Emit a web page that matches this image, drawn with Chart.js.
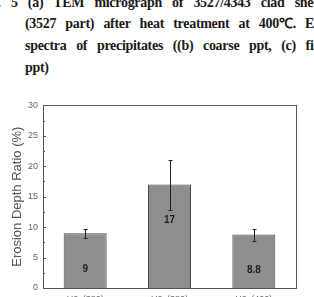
<!DOCTYPE html>
<html>
<head>
<meta charset="utf-8">
<script src="https://cdn.jsdelivr.net/npm/chart.js@4.4.0/dist/chart.umd.min.js"></script>
<style>
  html, body { margin: 0; padding: 0; background: #fff; width: 314px; height: 297px; overflow: hidden; position: relative; }
  .cap { position: absolute; white-space: nowrap; font-family: "Liberation Serif", "Times New Roman", serif; font-weight: bold; font-size: 14px; letter-spacing: -0.3px; color: #1a1a1a; line-height: 1; }
  #wrap { position: absolute; left: 0; top: 95px; width: 314px; height: 210px; }
</style>
</head>
<body>
<div class="cap" style="left:-21px; top:-4px; word-spacing:7px;">Fig. 5 (a) TEM micrograph of 3527/4343 clad sheet</div>
<div class="cap" style="left:25px; top:17px; word-spacing:6px;">(3527 part) after heat treatment at 400℃. EDS</div>
<div class="cap" style="left:25px; top:39px; word-spacing:6.5px;">spectra of precipitates ((b) coarse ppt, (c) fine</div>
<div class="cap" style="left:25px; top:61px;">ppt)</div>
<div id="wrap"><canvas id="chart"></canvas></div>
<script>
const CATEGORIES = ['H2x(380)', 'H2x(380)', 'H2x(400)'];
const VALUES = [9, 17, 8.8];
const ERR_LOW = [8.2, 12.8, 7.7];
const ERR_HIGH = [9.7, 21.0, 9.7];
const Y_TICKS = [0, 5, 10, 15, 20, 25, 30];

// frame, inward ticks, error bars and value labels
const extras = {
    id: 'extras',
    afterDatasetsDraw(chart) {
        const ctx = chart.ctx;
        const area = chart.chartArea;
        const y = chart.scales.y;
        const meta = chart.getDatasetMeta(0);
        ctx.save();
        ctx.strokeStyle = '#555';
        ctx.lineWidth = 1;
        ctx.strokeRect(Math.round(area.left) + 0.5, Math.round(area.top) + 0.5,
            Math.round(area.right - area.left), Math.round(area.bottom - area.top));
        // ticks
        for (let v = 0; v <= 30; v += 2.5) {
            const py = Math.round(y.getPixelForValue(v)) + 0.5;
            const len = (v % 5 === 0) ? 3 : 2;
            ctx.beginPath();
            ctx.moveTo(area.left, py);
            ctx.lineTo(area.left + len, py);
            ctx.stroke();
        }
        // error bars
        ctx.strokeStyle = '#222';
        meta.data.forEach((bar, i) => {
            const x = Math.round(bar.x) + 0.5;
            const yl = Math.round(y.getPixelForValue(ERR_LOW[i])) + 0.5;
            const yh = Math.round(y.getPixelForValue(ERR_HIGH[i])) + 0.5;
            ctx.beginPath();
            ctx.moveTo(x, yl); ctx.lineTo(x, yh);
            ctx.moveTo(x - 2, yl); ctx.lineTo(x + 2, yl);
            ctx.moveTo(x - 2, yh); ctx.lineTo(x + 2, yh);
            ctx.stroke();
        });
        // value labels
        ctx.fillStyle = '#1e1e1e';
        ctx.font = 'bold 10px "Liberation Sans", Arial, sans-serif';
        ctx.textAlign = 'center';
        ctx.textBaseline = 'middle';
        meta.data.forEach((bar, i) => {
            ctx.fillText(String(VALUES[i]), bar.x, bar.y + 36);
        });
        ctx.restore();
    }
};

const ctx = document.getElementById('chart').getContext('2d');
new Chart(ctx, {
    type: 'bar',
    data: {
        labels: CATEGORIES,
        datasets: [{
            data: VALUES,
            backgroundColor: '#8e8e8e',
            borderColor: '#4a4a4a',
            borderWidth: 1,
            borderSkipped: 'bottom',
            categoryPercentage: 1.0,
            barPercentage: 0.51
        }]
    },
    options: {
        responsive: true,
        maintainAspectRatio: false,
        animation: false,
        layout: { padding: { top: 9, right: 18, left: 0, bottom: 0 } },
        plugins: {
            legend: { display: false },
            tooltip: { enabled: false }
        },
        scales: {
            x: {
                grid: { display: false, drawTicks: false },
                border: { display: false },
                ticks: {
                    color: '#666',
                    font: { family: '"Liberation Sans", Arial, sans-serif', size: 9 },
                    padding: 6
                },
                afterFit(scale) { scale.height = 17; }
            },
            y: {
                min: 0,
                max: 30,
                afterBuildTicks(scale) { scale.ticks = Y_TICKS.map(v => ({ value: v })); },
                grid: { display: false, drawTicks: false },
                border: { display: false },
                ticks: {
                    color: '#666',
                    font: { family: '"Liberation Sans", Arial, sans-serif', size: 9 },
                    padding: 5
                },
                title: {
                    display: true,
                    text: 'Erosion Depth Ratio (%)',
                    color: '#555',
                    font: { family: '"Liberation Sans", Arial, sans-serif', size: 13 },
                    padding: { top: 10, bottom: 0 }
                },
                afterFit(scale) { scale.width = 43; }
            }
        }
    },
    plugins: [extras]
});
</script>
</body>
</html>
